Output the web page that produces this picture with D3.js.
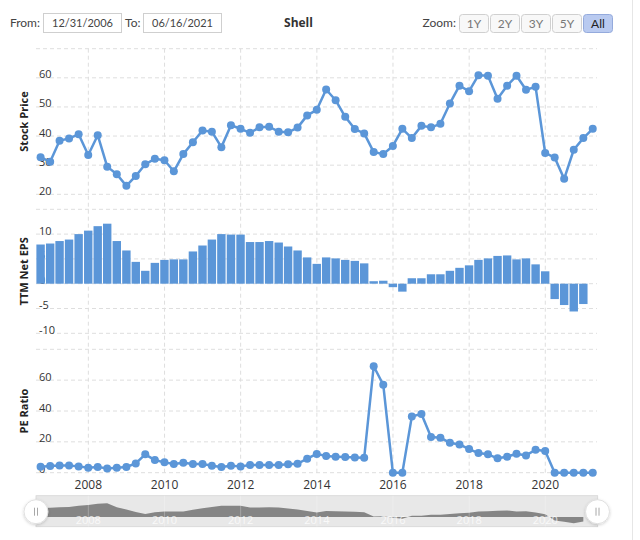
<!DOCTYPE html>
<html><head><meta charset="utf-8">
<script src="https://cdn.jsdelivr.net/npm/d3@7"></script>
<style>body{margin:0;background:#fff}svg{display:block}</style>
</head><body><svg id="c" width="640" height="540"></svg>
<script>
// ---------------- data ----------------
const quarterDates = [
"2006-09-30","2006-12-31",
"2007-03-31","2007-06-30","2007-09-30","2007-12-31",
"2008-03-31","2008-06-30","2008-09-30","2008-12-31",
"2009-03-31","2009-06-30","2009-09-30","2009-12-31",
"2010-03-31","2010-06-30","2010-09-30","2010-12-31",
"2011-03-31","2011-06-30","2011-09-30","2011-12-31",
"2012-03-31","2012-06-30","2012-09-30","2012-12-31",
"2013-03-31","2013-06-30","2013-09-30","2013-12-31",
"2014-03-31","2014-06-30","2014-09-30","2014-12-31",
"2015-03-31","2015-06-30","2015-09-30","2015-12-31",
"2016-03-31","2016-06-30","2016-09-30","2016-12-31",
"2017-03-31","2017-06-30","2017-09-30","2017-12-31",
"2018-03-31","2018-06-30","2018-09-30","2018-12-31",
"2019-03-31","2019-06-30","2019-09-30","2019-12-31",
"2020-03-31","2020-06-30","2020-09-30","2020-12-31",
"2021-03-31"];
const stockPrice = [
32.7,31.2,38.4,39.2,40.6,33.5,40.3,29.5,26.9,22.9,
26.3,30.3,32.2,31.7,27.9,33.8,37.9,41.9,41.5,36.2,
43.7,42.5,41.1,43.0,43.2,41.5,41.3,42.9,47.1,49.0,
56.0,52.3,46.6,42.4,40.9,34.5,33.8,36.6,42.5,39.3,
43.5,43.0,44.2,51.2,57.3,55.4,60.9,60.7,52.8,57.3,
60.7,55.9,56.9,34.2,32.6,25.3,35.3,39.3,42.5];
const ttmNetEps = [
7.9,8.1,8.6,8.9,10.0,10.7,11.6,12.1,8.6,6.7,
4.4,2.6,4.2,4.8,4.9,4.9,6.5,7.7,8.9,10.0,
9.9,9.9,8.4,8.4,8.6,8.3,7.5,6.7,5.3,4.0,
5.3,5.1,4.8,4.6,4.1,0.5,0.6,-0.7,-1.6,1.1,
1.1,1.9,1.9,2.6,3.2,3.7,4.8,5.1,5.6,5.7,
4.9,5.1,3.9,2.5,-3.1,-4.3,-5.6,-4.1];
const peRatio = [
3.9,4.3,4.7,4.7,4.1,3.2,3.7,2.8,3.2,3.7,
6.0,11.9,8.2,6.7,5.6,6.5,5.6,5.6,4.5,3.7,
4.5,4.1,5.0,5.0,5.0,5.0,5.4,5.8,9.1,12.2,
10.8,10.4,10.1,9.9,9.7,69.0,57.0,0,0,36.5,
38.0,23.1,22.7,19.4,18.3,15.3,12.7,11.9,9.3,10.4,
12.3,11.2,14.9,14.0,0,0,0,0,0];

const stockGrid = [20,30,40,50,60,70];
const stockLabels = [20,30,40,50,60];
const epsGrid = [-10,-5,0,5,10,15];
const epsLabels = [-10,-5,0,5,10];
const peGrid = [0,20,40,60,80];
const peLabels = [0,20,40,60];
const yearTicks = ["2008","2010","2012","2014","2016","2018","2020"];
const zoomButtons = ["1Y","2Y","3Y","5Y","All"];
const fromDate = "12/31/2006", toDate = "06/16/2021", chartTitle = "Shell";
const axisTitles = ["Stock Price","TTM Net EPS","PE Ratio"];

// ---------------- drawing ----------------
const svg = d3.select("#c");
const parse = d3.utcParse("%Y-%m-%d");
const dates = quarterDates.map(parse);
const years = yearTicks.map(y => parse(y + "-01-01"));
const BLUE = "#5b96d8";
const FONT = "'Open Sans', 'Noto Sans', sans-serif";
const UIFONT = "Lato, 'Open Sans', sans-serif";

const x = d3.scaleUtc().domain([parse("2006-08-17"), parse("2021-05-11")]).range([36, 597]);
const [X0, X1] = x.range();

const yPrice = d3.scaleLinear().domain([20,70]).range([194.3,48.7]);
const yEps = d3.scaleLinear().domain([-10,15]).range([333.3,209.3]);
const yPe = d3.scaleLinear().domain([0,80]).range([472.7,349.3]);

// right border
svg.append("line").attr("x1",632.5).attr("x2",632.5).attr("y1",0).attr("y2",540)
  .attr("stroke","#e6e6e6");

// ---- top controls ----
const ctrl = svg.append("g").attr("font-family",UIFONT).attr("font-size",12).attr("fill","#444");
ctrl.append("text").attr("x",40).attr("y",27).attr("text-anchor","end").text("From:");
ctrl.append("rect").attr("x",43.5).attr("y",13.5).attr("width",78).attr("height",19)
  .attr("fill","#fff").attr("stroke","#cfcfcf");
ctrl.append("text").attr("x",82.5).attr("y",27).attr("text-anchor","middle").attr("font-size",11).text(fromDate);
ctrl.append("text").attr("x",140.5).attr("y",27).attr("text-anchor","end").text("To:");
ctrl.append("rect").attr("x",143.5).attr("y",13.5).attr("width",78).attr("height",19)
  .attr("fill","#fff").attr("stroke","#cfcfcf");
ctrl.append("text").attr("x",182.5).attr("y",27).attr("text-anchor","middle").attr("font-size",11).text(toDate);
ctrl.append("text").attr("x",298.5).attr("y",27).attr("text-anchor","middle")
  .attr("font-family",FONT).attr("font-weight","bold").attr("font-size",12).attr("fill","#333").text(chartTitle);
ctrl.append("text").attr("x",456).attr("y",27).attr("text-anchor","end").text("Zoom:");
zoomButtons.forEach((b,i) => {
  const sel = b === "All";
  const bx = 459.5 + i*31;
  ctrl.append("rect").attr("x",bx).attr("y",14.5).attr("width",29).attr("height",18).attr("rx",3)
    .attr("fill", sel ? "#b9caf0" : "#f8f8f8").attr("stroke", sel ? "#94aadc" : "#d0d0d0");
  ctrl.append("text").attr("x",bx+14.5).attr("y",27.5).attr("text-anchor","middle")
    .attr("font-size",12).attr("fill", sel ? "#222" : "#777").text(b);
});

// ---- grids ----
const grid = svg.append("g").attr("stroke","#dedede").attr("stroke-dasharray","4,3").attr("fill","none");
function hgrid(scale, vals){
  vals.forEach(v => grid.append("line").attr("x1",X0).attr("x2",X1)
    .attr("y1",scale(v)).attr("y2",scale(v)));
}
hgrid(yPrice, stockGrid); hgrid(yEps, epsGrid); hgrid(yPe, peGrid);
years.forEach(d => grid.append("line").attr("x1",x(d)).attr("x2",x(d))
  .attr("y1",yPrice.range()[1]).attr("y2",yPe.range()[0]));

// ---- y labels ----
const lab = svg.append("g").attr("font-family",FONT).attr("font-size",11).attr("fill","#333");
function ylabels(scale, vals){
  vals.forEach(v => lab.append("text").attr("x",39).attr("y",scale(v)+0.5).text(v));
}
ylabels(yPrice, stockLabels); ylabels(yEps, epsLabels); ylabels(yPe, peLabels);

// axis titles
[[yPrice,axisTitles[0]],[yEps,axisTitles[1]],[yPe,axisTitles[2]]].forEach(([s,t]) => {
  const cy = (s.range()[0] + s.range()[1]) / 2;
  svg.append("text").attr("transform",`translate(28,${cy}) rotate(-90)`)
    .attr("text-anchor","middle").attr("font-family",FONT).attr("font-weight","bold")
    .attr("font-size",11).attr("fill","#222").text(t);
});

// x labels
years.forEach((d,i) => lab.append("text").attr("x",x(d)).attr("y",489).attr("text-anchor","middle")
  .attr("font-size",12).text(yearTicks[i]));

// ---- stock price line ----
const priceData = dates.map((d,i) => ({d, v: stockPrice[i]}));
svg.append("path").datum(priceData).attr("fill","none").attr("stroke",BLUE).attr("stroke-width",2.5)
  .attr("stroke-linejoin","round")
  .attr("d", d3.line().x(p => x(p.d)).y(p => yPrice(p.v)));
svg.append("g").selectAll("circle").data(priceData).join("circle")
  .attr("cx",p => x(p.d)).attr("cy",p => yPrice(p.v)).attr("r",4).attr("fill",BLUE);

// ---- EPS bars ----
const epsData = ttmNetEps.map((v,i) => ({d: dates[i], v}));
const bw = 8.4;
svg.append("g").selectAll("rect").data(epsData).join("rect")
  .attr("x", p => x(p.d) - bw/2).attr("width", bw)
  .attr("y", p => yEps(Math.max(0,p.v)))
  .attr("height", p => Math.abs(yEps(p.v) - yEps(0)))
  .attr("fill", BLUE);

// ---- PE line ----
const peData = dates.map((d,i) => ({d, v: peRatio[i]}));
svg.append("path").datum(peData).attr("fill","none").attr("stroke",BLUE).attr("stroke-width",2.5)
  .attr("stroke-linejoin","round")
  .attr("d", d3.line().x(p => x(p.d)).y(p => yPe(p.v)));
svg.append("g").selectAll("circle").data(peData).join("circle")
  .attr("cx",p => x(p.d)).attr("cy",p => yPe(p.v)).attr("r",4).attr("fill",BLUE);

// ---- navigator ----
const navTop = 495.7, navBot = 526.7;
const nav = svg.append("g");
nav.append("rect").attr("x",X0).attr("y",navTop).attr("width",X1-X0+0.7).attr("height",navBot-navTop)
  .attr("fill","#e8e8e8").attr("stroke","#d6d6d6").attr("stroke-width",0.8);
const yNav = d3.scaleLinear().domain(d3.extent(ttmNetEps)).range([523.3,503.3]);
nav.append("path").datum(epsData).attr("fill","#858585")
  .attr("d", d3.area().x(p => x(p.d)).y0(yNav(0)).y1(p => yNav(p.v)));
years.forEach((d,i) => {
  nav.append("line").attr("x1",x(d)).attr("x2",x(d)).attr("y1",navTop).attr("y2",navBot)
    .attr("stroke","#ffffff").attr("stroke-opacity",0.25);
  nav.append("text").attr("x",x(d)).attr("y",523.5).attr("text-anchor","middle")
    .attr("font-family",FONT).attr("font-size",11).attr("fill","#ffffff").attr("fill-opacity",0.75)
    .text(yearTicks[i]);
});
const defs = svg.append("defs");
const f = defs.append("filter").attr("id","sh").attr("x","-50%").attr("y","-50%").attr("width","200%").attr("height","200%");
f.append("feDropShadow").attr("dx",0).attr("dy",1).attr("stdDeviation",1.5).attr("flood-color","#000").attr("flood-opacity",0.18);
[X0, X1 + 0.5].forEach(hx => {
  const hy = 511.7;
  nav.append("circle").attr("cx",hx).attr("cy",hy).attr("r",12).attr("fill","#fff")
    .attr("stroke","#e0e0e0").attr("filter","url(#sh)");
  [-1.5,1.5].forEach(o => nav.append("line").attr("x1",hx+o).attr("x2",hx+o)
    .attr("y1",hy-4).attr("y2",hy+4).attr("stroke","#a8a8a8").attr("stroke-width",1));
});
</script></body></html>
